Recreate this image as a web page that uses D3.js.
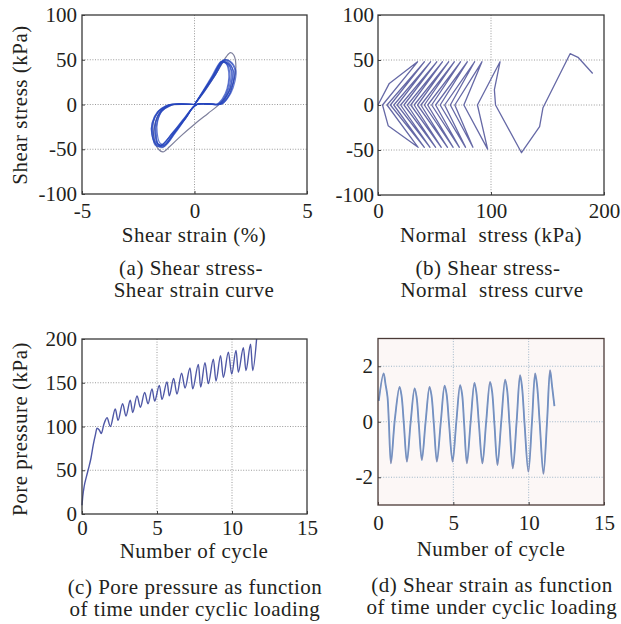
<!DOCTYPE html>
<html><head><meta charset="utf-8">
<script src="https://cdn.jsdelivr.net/npm/d3@7"></script>
<style>
html,body{margin:0;padding:0;background:#fff;}
svg{display:block;}
</style></head>
<body>
<svg id="chart" width="621" height="624"></svg>
<script>
// ---------- Panel (a): shear stress vs shear strain loops ----------
const strainTicksA = [-5, 0, 5];
const stressTicks = [-100, -50, 0, 50, 100];
const loopFirst = [[0,0],[0.5,17],[1.0,36],[1.4,53],[1.6,58],[1.75,55],[1.84,42],[1.72,24],[1.38,8],[1.05,-1],[0.6,-10],[0,-22],[-0.6,-35],[-1.1,-47],[-1.4,-53],[-1.6,-50],[-1.8,-38],[-1.76,-22],[-1.48,-7],[-1.1,-1],[-0.2,0]];
const loop1 = [[0,0],[0.4,15],[0.82,32],[1.2,48],[1.45,46],[1.62,38],[1.6,26],[1.45,13],[1.18,2],[1.02,0],[0.1,0],[-0.4,-15],[-0.88,-31],[-1.4,-46],[-1.64,-44],[-1.76,-32],[-1.74,-20],[-1.52,-8],[-1.16,-1.5],[-1.0,0],[0,0]];
const loop2 = [[0,0],[0.42,16],[0.86,33],[1.25,49],[1.52,47],[1.7,39],[1.68,27],[1.52,14],[1.24,2],[1.08,0],[0.12,0],[-0.42,-15],[-0.93,-31],[-1.45,-45],[-1.7,-43],[-1.84,-31],[-1.82,-19],[-1.58,-7],[-1.22,-1.5],[-1.05,0],[0,0]];
const loop3 = [[0,0],[0.38,14],[0.8,31],[1.22,47],[1.44,45],[1.56,37],[1.54,25],[1.4,12],[1.13,2],[0.98,0],[0.08,0],[-0.38,-15],[-0.86,-32],[-1.35,-47],[-1.6,-45],[-1.7,-33],[-1.68,-21],[-1.46,-8],[-1.12,-1.5],[-0.95,0],[0,0]];
const loop4 = [[0,0],[0.44,16],[0.88,33],[1.3,50],[1.56,48],[1.78,40],[1.76,28],[1.6,14],[1.3,2],[1.12,0],[0.1,0],[-0.45,-15],[-0.96,-31],[-1.5,-46],[-1.74,-44],[-1.9,-32],[-1.88,-20],[-1.64,-8],[-1.28,-1.5],[-1.1,0],[0,0]];
const loop5 = [[0,0],[0.37,15],[0.78,32],[1.18,48],[1.4,46],[1.52,36],[1.5,24],[1.36,12],[1.09,2],[0.95,0],[0.06,0],[-0.36,-14],[-0.83,-30],[-1.3,-45],[-1.54,-43],[-1.66,-31],[-1.64,-19],[-1.44,-7],[-1.07,-1.5],[-0.9,0],[0,0]];
const loop6 = [[0,0],[0.43,14],[0.88,31],[1.28,47],[1.54,45],[1.74,37],[1.72,25],[1.56,12],[1.24,2],[1.07,0],[0.1,0],[-0.41,-16],[-0.91,-32],[-1.42,-48],[-1.66,-46],[-1.9,-33],[-1.88,-21],[-1.6,-8],[-1.19,-1.5],[-1.02,0],[0,0]];
const loop7 = [[0,0],[0.45,16],[0.92,33],[1.35,50],[1.6,48],[1.84,38],[1.8,26],[1.62,13],[1.29,2],[1.12,0],[0.12,0],[-0.46,-16],[-0.98,-32],[-1.55,-47],[-1.76,-45],[-1.86,-33],[-1.84,-20],[-1.6,-8],[-1.24,-1.5],[-1.08,0],[0,0]];
const loop8 = [[0,0],[0.41,15],[0.84,32],[1.24,48],[1.48,46],[1.66,37],[1.64,25],[1.48,12],[1.17,2],[1.02,0],[0.08,0],[-0.4,-15],[-0.88,-31],[-1.38,-46],[-1.62,-44],[-1.74,-32],[-1.72,-20],[-1.5,-8],[-1.14,-1.5],[-0.98,0],[0,0]];
const blueLoops = [loop1, loop2, loop3, loop4, loop5, loop6, loop7, loop8];

// ---------- Panel (b): shear stress vs normal stress path ----------
const normalTicksB = [0, 100, 200];
const stressPath = [
  [0,0],[10,24],[35,48],[4,0],[9,-23],[35.5,-47],[8,0],
  [41,48],[11,0],[41,-47],[14,0],
  [46.5,48],[17,0],[46,-47],[20,0],
  [52,48],[23,0],[51,-47],[26,0],
  [57,48],[29,0],[56,-47],[32,0],
  [62.5,48],[35,0],[61.5,-47],[38,0],
  [67.5,48],[41,0],[66.5,-47],[44,0],
  [73,48],[47.5,0],[72,-47],[51,0],
  [79,48],[55,0],[77.5,-47],[59,0],
  [85.5,48],[64,0],[84,-47],[68,0],
  [92,48],[76,0],[97,-49],[88,0],
  [108,48],[103,17],[104,0],[127,-53],[143,-24],[146,-3],[170,57],[177,53],[190,35]
];

// ---------- Panel (c): pore pressure vs cycles ----------
const cycleTicks = [0, 5, 10, 15];
const poreTicks = [0, 50, 100, 150, 200];
const poreCycle = [0,0.05,0.15,0.3,0.45,0.6,0.75,0.9,1.0,1.15,1.29,1.45,1.67,1.89,2.22,2.4,2.71,2.93,3.22,3.38,3.67,3.89,4.18,4.4,4.67,4.84,5.16,5.33,5.67,5.82,6.11,6.33,6.64,6.87,7.2,7.38,7.76,7.91,8.2,8.42,8.76,8.93,9.24,9.42,9.76,9.98,10.27,10.42,10.76,10.93,11.24,11.38,11.64];
const porePressure = [10,20,32,43,53,64,79,91,98,96,92,102,110,100,120,107,126,112,130,116,135,122,139,126,143,129,147,131,151,135,155,137,161,144,167,143,171,145,173,149,177,152,181,156,185,160,187,162,190,164,194,164,200];

// ---------- Panel (d): shear strain vs cycles ----------
const strainTicksD = [-2, 0, 2];
const strainCycle = [0.05,0.37,0.5,0.63,0.72,0.86,1.12,1.43,1.56,1.72,1.92,2.17,2.43,2.56,2.71,2.91,3.16,3.42,3.55,3.71,3.91,4.17,4.42,4.55,4.72,4.95,5.2,5.45,5.58,5.72,5.9,6.15,6.4,6.53,6.7,6.93,7.18,7.44,7.57,7.73,7.93,8.18,8.44,8.57,8.73,8.95,9.2,9.43,9.56,9.73,9.98,10.22,10.43,10.56,10.74,10.98,11.22,11.42,11.55,11.71];
const shearStrain = [0.75,1.74,1.35,0.9,0.0,-1.5,0.1,1.26,0.95,-0.1,-1.44,0.0,1.2,0.9,-0.1,-1.38,0.0,1.26,0.95,-0.1,-1.44,0.0,1.3,1.0,-0.1,-1.44,0.0,1.32,1.0,-0.1,-1.5,0.0,1.4,1.05,-0.1,-1.5,0.0,1.44,1.1,-0.1,-1.56,0.0,1.52,1.15,-0.1,-1.68,0.0,1.68,1.25,-0.1,-1.8,0.0,1.74,1.3,-0.1,-1.88,0.0,1.86,1.3,0.56];

// ---------- drawing ----------
const FONT = "'Liberation Serif', 'DejaVu Serif', serif";
const svg = d3.select("#chart");
const FS = 21;
const LS = "0.5px";

function panel(c) {
  const x = d3.scaleLinear().domain(c.xDomain).range([c.left, c.right]);
  const y = d3.scaleLinear().domain(c.yDomain).range([c.bottom, c.top]);
  const g = svg.append("g");
  g.append("rect").attr("x", c.left).attr("y", c.top)
    .attr("width", c.right - c.left).attr("height", c.bottom - c.top)
    .attr("fill", c.bg || "#fff");
  const inner = (arr, dom) => arr.filter(v => v > dom[0] && v < dom[1]);
  g.selectAll(null).data(inner(c.xTicks, c.xDomain)).join("line")
    .attr("x1", d => x(d)).attr("x2", d => x(d)).attr("y1", c.top).attr("y2", c.bottom)
    .attr("stroke", c.grid || "#9a9a9a").attr("stroke-width", 1).attr("stroke-dasharray", "1,1.6");
  g.selectAll(null).data(inner(c.yTicks, c.yDomain)).join("line")
    .attr("y1", d => y(d)).attr("y2", d => y(d)).attr("x1", c.left).attr("x2", c.right)
    .attr("stroke", c.grid || "#9a9a9a").attr("stroke-width", 1).attr("stroke-dasharray", "1,1.6");
  const plot = g.append("g");
  const ax = g.append("g").attr("transform", `translate(0,${c.bottom})`)
    .call(d3.axisBottom(x).tickValues(c.xTicks).tickFormat(d => String(d))
      .tickSizeInner(-3).tickSizeOuter(0).tickPadding(c.xPad));
  const ay = g.append("g").attr("transform", `translate(${c.left},0)`)
    .call(d3.axisLeft(y).tickValues(c.yTicks).tickFormat(d => String(d))
      .tickSizeInner(-3).tickSizeOuter(0).tickPadding(c.yPad));
  [ax, ay].forEach(a => {
    a.attr("font-family", FONT).attr("font-size", FS);
    a.select(".domain").remove();
    a.selectAll(".tick line").attr("stroke", "#444");
    a.selectAll(".tick text").attr("fill", "#231f20");
  });
  g.append("rect").attr("x", c.left).attr("y", c.top)
    .attr("width", c.right - c.left).attr("height", c.bottom - c.top)
    .attr("fill", "none").attr("stroke", c.frame || "#3a3a3a").attr("stroke-width", 1.3);
  return { x, y, plot };
}

function label(txt, x, y, rotate) {
  const t = svg.append("text").attr("text-anchor", "middle")
    .attr("font-family", FONT).attr("font-size", FS).attr("fill", "#231f20")
    .attr("letter-spacing", LS)
    .attr("xml:space", "preserve").style("white-space", "pre").text(txt);
  if (rotate) t.attr("transform", `translate(${x},${y}) rotate(-90)`);
  else t.attr("x", x).attr("y", y);
  return t;
}

// Panel (a)
const pa = panel({left: 82, right: 307, top: 15, bottom: 194, xDomain: [-5, 5], yDomain: [-100, 100],
  xTicks: strainTicksA, yTicks: stressTicks, xPad: 9.5, yPad: 5});
const lineA = d3.line().x(d => pa.x(d[0])).y(d => pa.y(d[1])).curve(d3.curveCatmullRom.alpha(0.5));
pa.plot.append("path").attr("d", lineA(loopFirst)).attr("fill", "none")
  .attr("stroke", "#7d7f9c").attr("stroke-width", 1.2);
pa.plot.selectAll(null).data(blueLoops).join("path").attr("d", lineA).attr("fill", "none")
  .attr("stroke", "#2646bd").attr("stroke-width", 1.2).attr("stroke-opacity", 0.7);
label("Shear strain (%)", 194, 242);
label("Shear stress (kPa)", 27, 105, true);
label("(a) Shear stress-", 191, 275);
label("Shear strain curve", 194, 297);

// Panel (b)
const pb = panel({left: 378, right: 604, top: 15, bottom: 195, xDomain: [0, 200], yDomain: [-100, 100],
  xTicks: normalTicksB, yTicks: stressTicks, xPad: 8.5, yPad: 4});
const lineB = d3.line().x(d => pb.x(d[0])).y(d => pb.y(d[1]));
pb.plot.append("path").attr("d", lineB(stressPath)).attr("fill", "none")
  .attr("stroke", "#6669a6").attr("stroke-width", 1.3).attr("stroke-linejoin", "round");
label("Normal  stress (kPa)", 491, 242);
label("(b) Shear stress-", 488, 275);
label("Normal  stress curve", 492, 297);

// Panel (c)
const pc = panel({left: 82, right: 307, top: 339, bottom: 514, xDomain: [0, 15], yDomain: [0, 200],
  xTicks: cycleTicks, yTicks: poreTicks, xPad: 6.5, yPad: 5});
const lineC = d3.line().x((d, i) => pc.x(poreCycle[i])).y(d => pc.y(d)).curve(d3.curveMonotoneX);
pc.plot.append("path").attr("d", lineC(porePressure)).attr("fill", "none")
  .attr("stroke", "#4f58a6").attr("stroke-width", 1.4);
label("Number of cycle", 194, 558);
label("Pore pressure (kPa)", 27, 429, true);
label("(c) Pore pressure as function", 195, 594);
label("of time under cyclic loading", 195, 616);

// Panel (d)
const pd = panel({left: 378, right: 604, top: 338.5, bottom: 505, xDomain: [0, 15], yDomain: [-3, 3],
  xTicks: cycleTicks, yTicks: strainTicksD, xPad: 10.5, yPad: 5,
  bg: "#fcf7f6", grid: "#9fb6c8", frame: "#4a3a36"});
const lineD = d3.line().x((d, i) => pd.x(strainCycle[i])).y(d => pd.y(d)).curve(d3.curveCatmullRom.alpha(0.5));
pd.plot.append("path").attr("d", lineD(shearStrain)).attr("fill", "none")
  .attr("stroke", "#5b8fcf").attr("stroke-width", 1.8);
pd.plot.append("path").attr("d", lineD(shearStrain)).attr("fill", "none")
  .attr("stroke", "#e0907c").attr("stroke-width", 0.6).attr("stroke-opacity", 0.5);
label("Number of cycle", 491, 556);
label("(d) Shear strain as function", 492, 592);
label("of time under cyclic loading", 492, 614);
</script>
</body></html>
